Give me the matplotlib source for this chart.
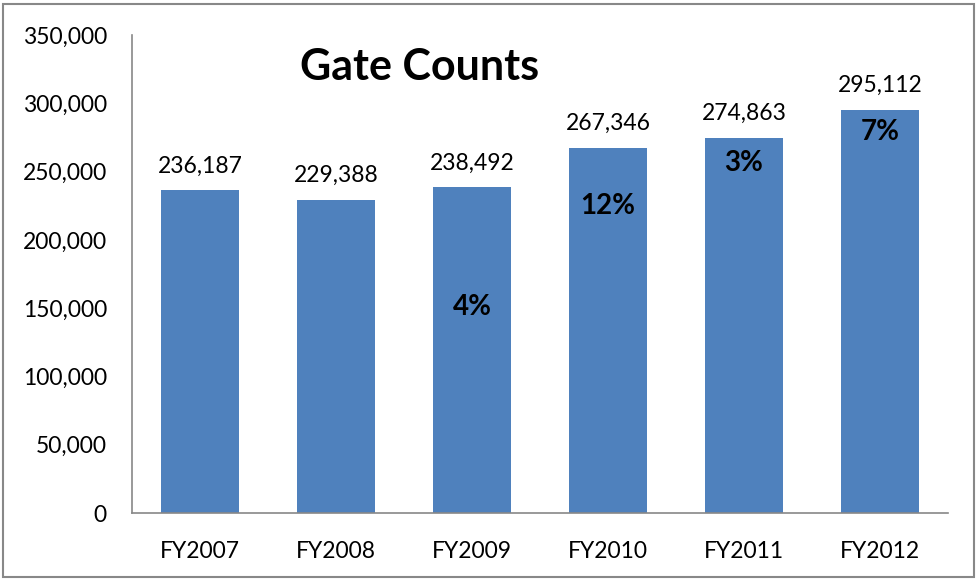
import matplotlib
matplotlib.use("Agg")
import matplotlib.pyplot as plt
from matplotlib.patches import Rectangle

categories = ["FY2007", "FY2008", "FY2009", "FY2010", "FY2011", "FY2012"]
gate_counts = [236187, 229388, 238492, 267346, 274863, 295112]
pct_labels = ["", "", "4%", "12%", "3%", "7%"]
pct_label_y = [None, None, 151000, 225000, 256000, 279000]
y_ticks = [0, 50000, 100000, 150000, 200000, 250000, 300000, 350000]

plt.rcParams['font.family'] = ['Lato', 'DejaVu Sans']

fig = plt.figure(figsize=(9.77, 5.80), dpi=100)
W, H = 977, 580
ax = fig.add_axes([132 / W, 1 - 513 / H, (948 - 132) / W, (513 - 35) / H])

x = list(range(len(categories)))
ax.bar(x, gate_counts, width=0.57, color="#4F81BD", zorder=2)

ax.set_xlim(-0.5, len(categories) - 0.5)
ax.set_ylim(0, 350000)
ax.set_yticks(y_ticks)
ax.set_yticklabels([f"{v:,}" for v in y_ticks], fontsize=16.5)
ax.set_xticks(x)
ax.set_xticklabels(categories, fontsize=16.5)
ax.tick_params(axis='both', length=0)
ax.tick_params(axis='y', pad=18)
ax.tick_params(axis='x', pad=20)

for s in ["top", "right"]:
    ax.spines[s].set_visible(False)
for s in ["left", "bottom"]:
    ax.spines[s].set_color("#888888")
    ax.spines[s].set_linewidth(1.2)

for xi, v in zip(x, gate_counts):
    ax.text(xi, v + 10000, f"{v:,}", ha="center", va="bottom", fontsize=16.5)

for xi, lab, ly in zip(x, pct_labels, pct_label_y):
    if lab:
        ax.text(xi, ly, lab, ha="center", va="center", fontsize=20, fontweight="bold")

fig.text(420 / W, 1 - 67 / H, "Gate Counts", ha="center", va="center",
         fontsize=31, fontweight="bold")

fig.patches.append(Rectangle((3 / W, 3 / H), 971 / W, 573 / H, transform=fig.transFigure,
                             fill=False, edgecolor="#888888", linewidth=1.5))

fig.savefig("out.png", dpi=100)
